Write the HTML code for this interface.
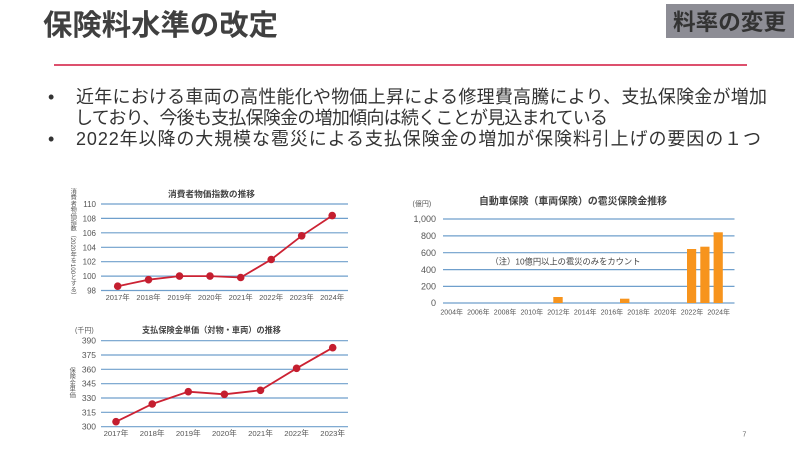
<!DOCTYPE html>
<html><head><meta charset="utf-8">
<style>
html,body{margin:0;padding:0;background:#fff;}
#wrap{position:relative;width:800px;height:450px;overflow:hidden;background:#fff;font-family:"Liberation Sans","Noto Sans CJK JP",sans-serif;}
svg{position:absolute;left:0;top:0;}
.vl{position:absolute;writing-mode:vertical-rl;font-family:"Liberation Sans","Noto Sans CJK JP",sans-serif;color:#555;white-space:nowrap;line-height:1;}
</style></head><body>
<div id="wrap">
<svg width="800" height="450" viewBox="0 0 800 450" xmlns="http://www.w3.org/2000/svg" font-family="Liberation Sans, Noto Sans CJK JP, sans-serif">
  <!-- Title -->
  <text x="43" y="35" font-size="29" font-weight="bold" fill="#404040" textLength="235" lengthAdjust="spacingAndGlyphs">保険料水準の改定</text>
  <!-- badge -->
  <rect x="666" y="4" width="128" height="34" fill="#8d8d95"/>
  <text x="673" y="30" font-size="22.5" font-weight="bold" fill="#333" textLength="113" lengthAdjust="spacingAndGlyphs">料率の変更</text>
  <!-- red rule -->
  <line x1="54" y1="65" x2="747" y2="65" stroke="#d2173d" stroke-width="1.6"/>
  <!-- bullets -->
  <text x="48" y="103" font-size="18" fill="#333">•</text>
  <text x="76" y="103" font-size="18" fill="#333" textLength="691" lengthAdjust="spacing">近年における車両の高性能化や物価上昇による修理費高騰により、支払保険金が増加</text>
  <text x="75" y="124" font-size="18" fill="#333" textLength="533" lengthAdjust="spacing">しており、今後も支払保険金の増加傾向は続くことが見込まれている</text>
  <text x="48" y="145" font-size="18" fill="#333">•</text>
  <text x="76" y="145" font-size="18" fill="#333" textLength="685" lengthAdjust="spacing">2022年以降の大規模な雹災による支払保険金の増加が保険料引上げの要因の１つ</text>

  <!-- Chart 1: CPI -->
  <text x="168" y="197" font-size="8.5" font-weight="bold" fill="#444" textLength="87" lengthAdjust="spacingAndGlyphs">消費者物価指数の推移</text>
  <g stroke="#6f9fcc" stroke-width="1.2">
    <line x1="101" y1="204" x2="348" y2="204"/>
    <line x1="101" y1="218.4" x2="348" y2="218.4"/>
    <line x1="101" y1="232.8" x2="348" y2="232.8"/>
    <line x1="101" y1="247.3" x2="348" y2="247.3"/>
    <line x1="101" y1="261.7" x2="348" y2="261.7"/>
    <line x1="101" y1="276.1" x2="348" y2="276.1"/>
    <line x1="101" y1="290.5" x2="348" y2="290.5"/>
  </g>
  <g font-size="8" fill="#555" text-anchor="end">
    <text x="96" y="207">110</text>
    <text x="96" y="221.4">108</text>
    <text x="96" y="235.8">106</text>
    <text x="96" y="250.3">104</text>
    <text x="96" y="264.7">102</text>
    <text x="96" y="279.1">100</text>
    <text x="96" y="293.5">98</text>
  </g>
  <g font-size="7.5" fill="#555" text-anchor="middle">
    <text x="117.7" y="300">2017年</text>
    <text x="148.5" y="300">2018年</text>
    <text x="179.5" y="300">2019年</text>
    <text x="210" y="300">2020年</text>
    <text x="240.7" y="300">2021年</text>
    <text x="271.2" y="300">2022年</text>
    <text x="301.7" y="300">2023年</text>
    <text x="332.2" y="300">2024年</text>
  </g>
  <polyline fill="none" stroke="#cc2233" stroke-width="1.8" points="117.7,286.2 148.5,279.7 179.5,276.1 210,276.1 240.7,277.5 271.2,259.5 301.7,235.8 332.2,215.6"/>
  <g fill="#c41e2f">
    <circle cx="117.7" cy="286.2" r="3.8"/>
    <circle cx="148.5" cy="279.7" r="3.8"/>
    <circle cx="179.5" cy="276.1" r="3.8"/>
    <circle cx="210" cy="276.1" r="3.8"/>
    <circle cx="240.7" cy="277.5" r="3.8"/>
    <circle cx="271.2" cy="259.5" r="3.8"/>
    <circle cx="301.7" cy="235.8" r="3.8"/>
    <circle cx="332.2" cy="215.6" r="3.8"/>
  </g>

  <!-- Chart 3: unit price -->
  <text x="142" y="333" font-size="8.3" font-weight="bold" fill="#444" textLength="139" lengthAdjust="spacingAndGlyphs">支払保険金単価（対物・車両）の推移</text>
  <text x="75" y="332.5" font-size="7" fill="#555">(千円)</text>
  <g stroke="#6f9fcc" stroke-width="1.2">
    <line x1="101" y1="340.7" x2="348" y2="340.7"/>
    <line x1="101" y1="355" x2="348" y2="355"/>
    <line x1="101" y1="369.3" x2="348" y2="369.3"/>
    <line x1="101" y1="383.7" x2="348" y2="383.7"/>
    <line x1="101" y1="398" x2="348" y2="398"/>
    <line x1="101" y1="412.3" x2="348" y2="412.3"/>
    <line x1="101" y1="426.7" x2="348" y2="426.7"/>
  </g>
  <g font-size="8.5" fill="#555" text-anchor="end">
    <text x="96" y="343.7">390</text>
    <text x="96" y="358">375</text>
    <text x="96" y="372.3">360</text>
    <text x="96" y="386.7">345</text>
    <text x="96" y="401">330</text>
    <text x="96" y="415.3">315</text>
    <text x="96" y="429.7">300</text>
  </g>
  <g font-size="7.7" fill="#555" text-anchor="middle">
    <text x="116" y="436">2017年</text>
    <text x="152.2" y="436">2018年</text>
    <text x="188.3" y="436">2019年</text>
    <text x="224.4" y="436">2020年</text>
    <text x="260.5" y="436">2021年</text>
    <text x="296.6" y="436">2022年</text>
    <text x="332.7" y="436">2023年</text>
  </g>
  <polyline fill="none" stroke="#cc2233" stroke-width="1.8" points="116,421.7 152.2,404 188.3,391.7 224.4,394.3 260.5,390.3 296.6,368.3 332.7,347.7"/>
  <g fill="#c41e2f">
    <circle cx="116" cy="421.7" r="3.8"/>
    <circle cx="152.2" cy="404" r="3.8"/>
    <circle cx="188.3" cy="391.7" r="3.8"/>
    <circle cx="224.4" cy="394.3" r="3.8"/>
    <circle cx="260.5" cy="390.3" r="3.8"/>
    <circle cx="296.6" cy="368.3" r="3.8"/>
    <circle cx="332.7" cy="347.7" r="3.8"/>
  </g>

  <!-- Chart 2: hail bars -->
  <text x="479" y="204.5" font-size="10" font-weight="bold" fill="#444" textLength="188" lengthAdjust="spacingAndGlyphs">自動車保険（車両保険）の雹災保険金推移</text>
  <text x="412.5" y="206" font-size="7" fill="#555">(億円)</text>
  <g stroke="#6f9fcc" stroke-width="1.2">
    <line x1="443" y1="219" x2="734.5" y2="219"/>
    <line x1="443" y1="235.9" x2="734.5" y2="235.9"/>
    <line x1="443" y1="252.7" x2="734.5" y2="252.7"/>
    <line x1="443" y1="269.6" x2="734.5" y2="269.6"/>
    <line x1="443" y1="286.4" x2="734.5" y2="286.4"/>
    <line x1="443" y1="303" x2="734.5" y2="303"/>
  </g>
  <g font-size="9" fill="#555" text-anchor="end">
    <text x="436" y="222.2">1,000</text>
    <text x="436" y="239.1">800</text>
    <text x="436" y="255.9">600</text>
    <text x="436" y="272.8">400</text>
    <text x="436" y="289.6">200</text>
    <text x="436" y="306.2">0</text>
  </g>
  <g font-size="7" fill="#555" text-anchor="middle">
    <text x="451.7" y="314.5">2004年</text>
    <text x="478.4" y="314.5">2006年</text>
    <text x="505.1" y="314.5">2008年</text>
    <text x="531.8" y="314.5">2010年</text>
    <text x="558.5" y="314.5">2012年</text>
    <text x="585.2" y="314.5">2014年</text>
    <text x="611.9" y="314.5">2016年</text>
    <text x="638.6" y="314.5">2018年</text>
    <text x="665.3" y="314.5">2020年</text>
    <text x="692" y="314.5">2022年</text>
    <text x="718.7" y="314.5">2024年</text>
  </g>
  <g fill="#f7941d">
    <rect x="553.3" y="297" width="9.4" height="6"/>
    <rect x="620" y="298.7" width="9.4" height="4.3"/>
    <rect x="687" y="249" width="9.2" height="54"/>
    <rect x="700.3" y="246.7" width="9.2" height="56.3"/>
    <rect x="713.6" y="232.3" width="9.2" height="70.7"/>
  </g>
  <text x="490.5" y="264.5" font-size="8.5" fill="#444" textLength="150" lengthAdjust="spacingAndGlyphs">（注）10億円以上の雹災のみをカウント</text>

  <!-- page number -->
  <text x="742.5" y="436.5" font-size="7" fill="#666">7</text>
</svg>
<div class="vl" style="left:69px;top:188px;font-size:6.2px;">消費者物価指数（2020年を100とする）</div>
<div class="vl" style="left:68px;top:367px;font-size:6.2px;">保険金単価</div>
</div>
</body></html>
